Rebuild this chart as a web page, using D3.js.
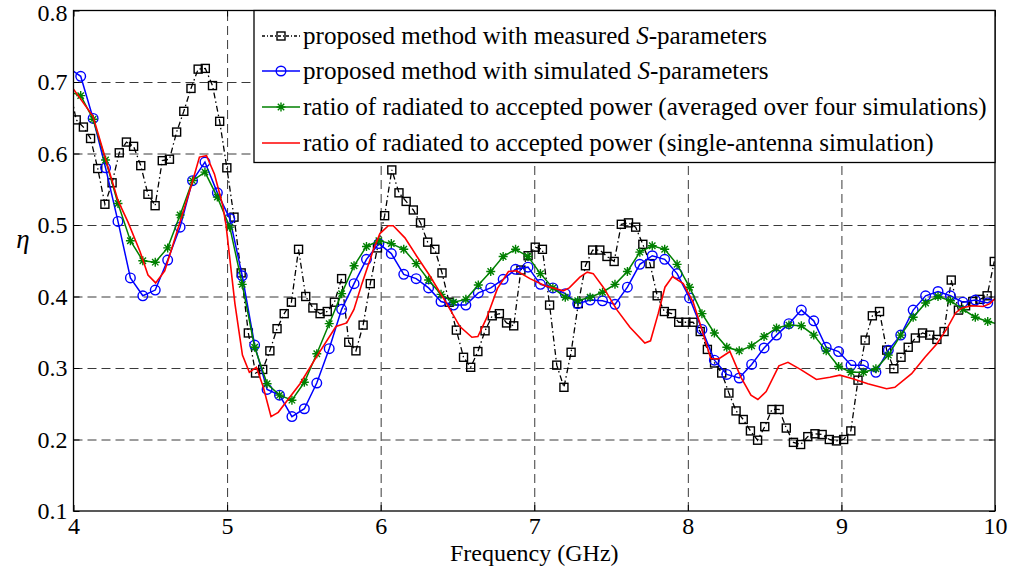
<!DOCTYPE html>
<html><head><meta charset="utf-8">
<script src="https://cdn.jsdelivr.net/npm/d3@7"></script>
<style>body{margin:0;background:#fff}svg{display:block}</style>
</head><body><svg id="c" width="1013" height="571"></svg>
<script>
// ---- data ----
const xTicks = [4,5,6,7,8,9,10];
const yTicks = [0.1,0.2,0.3,0.4,0.5,0.6,0.7,0.8];
const legendLabels = [
  ["proposed method with measured ", "S", "-parameters"],
  ["proposed method with simulated ", "S", "-parameters"],
  ["ratio of radiated to accepted power (averaged over four simulations)"],
  ["ratio of radiated to accepted power (single-antenna simulation)"]
];
// measured S-parameters: uniform sampling grid (GHz)
const measStart = 3.971, measStep = 0.0467;
const measVals = [0.696,
 0.647,0.637,0.621,0.579,0.529,0.559,0.601,0.616,0.610,0.583,
 0.543,0.527,0.590,0.592,0.630,0.659,0.691,0.718,0.719,0.695,
 0.645,0.580,0.511,0.433,0.349,0.293,0.298,0.324,0.355,0.376,
 0.392,0.466,0.400,0.384,0.376,0.379,0.392,0.425,0.336,0.324,
 0.360,0.418,0.468,0.513,0.577,0.545,0.533,0.521,0.503,0.476,
 0.466,0.433,0.392,0.353,0.315,0.301,0.323,0.352,0.373,0.376,
 0.363,0.359,0.437,0.457,0.469,0.466,0.388,0.304,0.273,0.322,
 0.390,0.443,0.465,0.465,0.456,0.449,0.501,0.503,0.497,0.473,
 0.446,0.401,0.379,0.376,0.364,0.364,0.364,0.351,0.326,0.307,
 0.293,0.265,0.240,0.228,0.212,0.199,0.218,0.242,0.242,0.216,
 0.196,0.193,0.204,0.208,0.207,0.200,0.198,0.200,0.212,0.283,
 0.339,0.373,0.379,0.325,0.299,0.315,0.329,0.342,0.349,0.346,
 0.340,0.351,0.423,0.381,0.387,0.393,0.396,0.401,0.449];
// simulated grid (GHz)
const simStart = 3.966, simStep = 0.0809;
const simVals = [0.720,
 0.708,0.649,0.580,0.505,0.426,0.401,0.409,0.451,0.497,0.562,
 0.588,0.545,0.509,0.429,0.332,0.270,0.262,0.232,0.243,0.279,
 0.327,0.382,0.418,0.452,0.474,0.460,0.431,0.425,0.412,0.393,
 0.388,0.388,0.405,0.412,0.424,0.438,0.441,0.417,0.412,0.404,
 0.390,0.395,0.394,0.389,0.413,0.445,0.457,0.452,0.432,0.398,
 0.354,0.311,0.291,0.286,0.305,0.328,0.346,0.362,0.381,0.366,
 0.329,0.323,0.304,0.304,0.294,0.325,0.346,0.381,0.401,0.407,
 0.401,0.392,0.395,0.391,0.400];
const avgVals = [0.687,
 0.681,0.648,0.591,0.530,0.478,0.450,0.448,0.468,0.514,0.562,
 0.574,0.539,0.497,0.417,0.329,0.278,0.262,0.255,0.280,0.320,
 0.362,0.404,0.443,0.470,0.478,0.474,0.466,0.446,0.423,0.403,
 0.392,0.396,0.416,0.435,0.456,0.466,0.456,0.432,0.412,0.399,
 0.394,0.399,0.406,0.417,0.435,0.462,0.471,0.466,0.445,0.413,
 0.376,0.349,0.329,0.324,0.331,0.344,0.356,0.360,0.359,0.346,
 0.324,0.302,0.294,0.294,0.299,0.318,0.346,0.371,0.391,0.400,
 0.394,0.382,0.371,0.365,0.361];
const singleFreq = [4.0,4.127,4.205,4.29,4.355,4.433,4.485,4.535,4.594,4.637,4.702,4.771,4.82,4.866,4.918,4.971,4.993,5.051,5.10,5.145,5.191,5.236,5.286,5.333,5.475,5.583,5.709,5.779,5.826,5.878,5.952,5.995,6.05,6.082,6.158,6.236,6.32,6.43,6.516,6.594,6.633,6.69,6.76,6.832,6.885,6.972,7.07,7.189,7.228,7.297,7.345,7.384,7.449,7.536,7.623,7.72,7.757,7.807,7.851,7.90,7.97,8.035,8.075,8.15,8.203,8.274,8.346,8.411,8.456,8.51,8.593,8.652,8.733,8.837,8.925,8.99,9.074,9.172,9.294,9.348,9.457,9.544,9.622,9.687,9.743,9.784,9.85,9.923,9.967,10.0];
const singleVals = [0.690,0.652,0.595,0.534,0.504,0.463,0.430,0.419,0.436,0.465,0.510,0.558,0.595,0.597,0.571,0.528,0.500,0.390,0.318,0.294,0.301,0.273,0.232,0.238,0.278,0.316,0.358,0.363,0.382,0.418,0.465,0.488,0.499,0.499,0.482,0.456,0.429,0.390,0.358,0.343,0.344,0.370,0.411,0.435,0.436,0.425,0.415,0.408,0.412,0.427,0.434,0.432,0.413,0.382,0.357,0.335,0.338,0.376,0.413,0.428,0.418,0.392,0.365,0.313,0.313,0.323,0.287,0.262,0.256,0.267,0.303,0.308,0.298,0.284,0.287,0.290,0.285,0.278,0.271,0.273,0.292,0.315,0.334,0.355,0.377,0.384,0.387,0.386,0.390,0.397];

// ---- build ----
const FONT = "Liberation Serif";
const meas = measVals.map((v,i)=>({f:measStart+i*measStep, v}));
const sim = simVals.map((v,i)=>({f:simStart+i*simStep, v}));
const avg = avgVals.map((v,i)=>({f:simStart+i*simStep, v}));
const single = singleVals.map((v,i)=>({f:singleFreq[i], v}));

const svg = d3.select("#c").style("font-family",FONT);
const L=73.5, R=995, T=10.5, B=511;
const x = d3.scaleLinear().domain([4,10]).range([L,R]);
const y = d3.scaleLinear().domain([0.1,0.8]).range([B,T]);

svg.append("defs").append("clipPath").attr("id","clip")
  .append("rect").attr("x",L).attr("y",T).attr("width",R-L).attr("height",B-T);

// grid
const gridStyle = g => { g.select(".domain").remove(); g.selectAll("text").remove();
  g.selectAll("line").attr("stroke","#3a3a3a").attr("stroke-width",1).attr("stroke-dasharray","9,5"); };
svg.append("g").attr("transform",`translate(0,${B})`)
  .call(d3.axisBottom(x).tickValues(xTicks.slice(1,-1)).tickSize(-(B-T)))
  .call(gridStyle);
svg.append("g").attr("transform",`translate(${L},0)`)
  .call(d3.axisLeft(y).tickValues(yTicks.slice(1,-1)).tickSize(-(R-L)))
  .call(gridStyle);

// axes with inward ticks
const fmtY = d3.format(".1f");
const axStyle = g => { g.select(".domain").remove(); g.attr("font-family",null);
  g.selectAll("line").attr("stroke","#000");
  g.selectAll("text").style("font-family",FONT).style("font-size","24px").attr("fill","#000"); };
svg.append("g").attr("transform",`translate(0,${B})`)
  .call(d3.axisBottom(x).tickValues(xTicks).tickFormat(d3.format("d")).tickSizeInner(-6).tickSizeOuter(0).tickPadding(6))
  .call(axStyle);
svg.append("g").attr("transform",`translate(0,${T})`)
  .call(d3.axisTop(x).tickValues(xTicks).tickFormat("").tickSizeInner(-6).tickSizeOuter(0))
  .call(axStyle);
const yAx = svg.append("g").attr("transform",`translate(${L},0)`)
  .call(d3.axisLeft(y).tickValues(yTicks).tickFormat(fmtY).tickSizeInner(-6).tickSizeOuter(0).tickPadding(6))
  .call(axStyle);
yAx.selectAll(".tick text").filter(d=>d===0.8).attr("dy","0.42em");
svg.append("g").attr("transform",`translate(${R},0)`)
  .call(d3.axisRight(y).tickValues(yTicks).tickFormat("").tickSizeInner(-6).tickSizeOuter(0))
  .call(axStyle);

const plot = svg.append("g").attr("clip-path","url(#clip)");
const line = d3.line().x(d=>x(d.f)).y(d=>y(d.v));

function square(g, cx, cy){ g.append("rect").attr("x",cx-4).attr("y",cy-4).attr("width",8).attr("height",8)
  .attr("fill","none").attr("stroke","#000").attr("stroke-width",1.4); }
function circle(g, cx, cy){ g.append("circle").attr("cx",cx).attr("cy",cy).attr("r",4.8)
  .attr("fill","none").attr("stroke","#0000ff").attr("stroke-width",1.4); }
function star(g, cx, cy){ const s=4.5, d=3.2;
  const p = `M${cx-s},${cy}H${cx+s}M${cx},${cy-s}V${cy+s}M${cx-d},${cy-d}L${cx+d},${cy+d}M${cx-d},${cy+d}L${cx+d},${cy-d}`;
  g.append("path").attr("d",p).attr("stroke","#008000").attr("stroke-width",1.4).attr("fill","none"); }

// measured
plot.append("path").datum(meas).attr("d",line).attr("fill","none").attr("stroke","#000")
  .attr("stroke-width",1.3).attr("stroke-dasharray","6,3,1.5,3");
const gm = plot.append("g"); meas.forEach(d=>square(gm,x(d.f),y(d.v)));
// simulated
plot.append("path").datum(sim).attr("d",line).attr("fill","none").attr("stroke","#0000ff").attr("stroke-width",1.5);
const gs = plot.append("g"); sim.forEach(d=>circle(gs,x(d.f),y(d.v)));
// averaged
plot.append("path").datum(avg).attr("d",line).attr("fill","none").attr("stroke","#008000").attr("stroke-width",1.5);
const ga = plot.append("g"); avg.forEach(d=>star(ga,x(d.f),y(d.v)));
// single
plot.append("path").datum(single).attr("d",line).attr("fill","none").attr("stroke","#ff0000").attr("stroke-width",1.6);

// frame
svg.append("rect").attr("x",L).attr("y",T).attr("width",R-L).attr("height",B-T)
  .attr("fill","none").attr("stroke","#000").attr("stroke-width",1.3);

// legend
const lg = svg.append("g");
lg.append("rect").attr("x",254).attr("y",T).attr("width",R-254).attr("height",152)
  .attr("fill","#fff").attr("stroke","#000").attr("stroke-width",1.3);
const rowsY = [36,71,107,143];
const styles = [
  {c:"#000", dash:"3,2,1,2", m:square},
  {c:"#0000ff", dash:null, m:circle},
  {c:"#008000", dash:null, m:star},
  {c:"#ff0000", dash:null, m:null}];
legendLabels.forEach((lab,i)=>{
  const yy = rowsY[i], st = styles[i];
  lg.append("line").attr("x1",262).attr("x2",300).attr("y1",yy).attr("y2",yy)
    .attr("stroke",st.c).attr("stroke-width",1.5).attr("stroke-dasharray",st.dash);
  if(st.m) st.m(lg,281,yy);
  const t = lg.append("text").attr("x",303).attr("y",yy+8).style("font-family",FONT).style("font-size","25.1px");
  lab.forEach((s,k)=>{ const ts=t.append("tspan").text(s); if(lab.length>1 && k===1) ts.style("font-style","italic"); });
});

// axis labels
svg.append("text").attr("x",(L+R)/2).attr("y",561).attr("text-anchor","middle")
  .style("font-family",FONT).style("font-size","24px").text("Frequency (GHz)");
svg.append("text").attr("x",23).attr("y",248).attr("text-anchor","middle")
  .style("font-family",FONT).style("font-size","27px").style("font-style","italic").text("η");
</script></body></html>
